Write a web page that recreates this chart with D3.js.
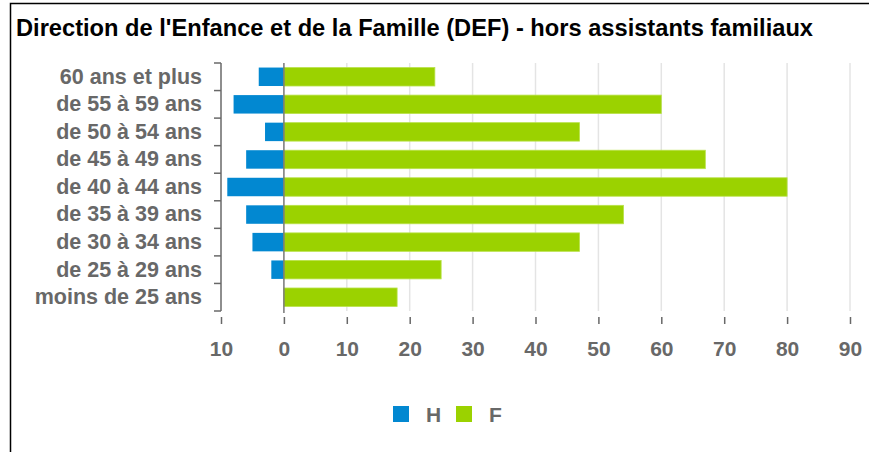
<!DOCTYPE html>
<html lang="fr">
	<head>
		<meta charset="utf-8">
		<title>DEF - pyramide des ages</title>
		<script type="text/javascript" src="https://cdn.jsdelivr.net/npm/d3@7"></script>
		<style type="text/css">
			body { margin: 0; background: #fff; }
			text { font-family: "Liberation Sans", Arial, sans-serif; }
		</style>
	</head>
	<body>
		<script type="text/javascript">
			// categories (top to bottom) and values
			var ages = ["60 ans et plus", "de 55 à 59 ans", "de 50 à 54 ans", "de 45 à 49 ans",
						"de 40 à 44 ans", "de 35 à 39 ans", "de 30 à 34 ans", "de 25 à 29 ans",
						"moins de 25 ans"];
			var hommes = [4, 8, 3, 6, 9, 6, 5, 2, 0];
			var femmes = [24, 60, 47, 67, 80, 54, 47, 25, 18];
			var xTicks = [-10, 0, 10, 20, 30, 40, 50, 60, 70, 80, 90];
			var series = ["H", "F"];

			var w = 869;
			var h = 452;
			var grey = "#686868";
			var blue = "#0288d1";
			var green = "#9bd200";

			var svg = d3.select("body")
						.append("svg")
						.attr("width", w)
						.attr("height", h);

			// frame (left + top only, like the cropped original)
			svg.append("path")
				.attr("d", "M10.5," + h + "V3.5H" + w)
				.attr("fill", "none")
				.attr("stroke", "#000")
				.attr("stroke-width", 1.5);

			svg.append("text")
				.attr("x", 16)
				.attr("y", 36)
				.attr("font-size", "23px")
				.attr("font-weight", "bold")
				.attr("fill", "#000")
				.attr("textLength", 797)
				.attr("lengthAdjust", "spacingAndGlyphs")
				.text("Direction de l'Enfance et de la Famille (DEF) - hors assistants familiaux");

			var xScale = d3.scaleLinear()
						.domain([-10, 90])
						.range([221, 850]);

			var yScale = d3.scaleBand()
						.domain(ages)
						.range([63, 311])
						.paddingInner(0.33)
						.paddingOuter(0.165);

			//grid lines
			svg.append("g")
				.selectAll("line")
				.data(xTicks.filter(function(d) { return d !== -10 && d !== 0; }))
				.enter()
				.append("line")
				.attr("x1", function(d) { return xScale(d); })
				.attr("x2", function(d) { return xScale(d); })
				.attr("y1", 63)
				.attr("y2", 311)
				.attr("stroke", "#e4e4e4")
				.attr("stroke-width", 1.5);

			//bars H (negative side)
			svg.selectAll("rect.h")
			   .data(ages)
			   .enter()
			   .append("rect")
			   .attr("class", "h")
			   .attr("x", function(d, i) { return xScale(-hommes[i]); })
			   .attr("y", function(d) { return yScale(d); })
			   .attr("width", function(d, i) { return xScale(0) - xScale(-hommes[i]); })
			   .attr("height", yScale.bandwidth())
			   .attr("fill", blue);

			//bars F
			svg.selectAll("rect.f")
			   .data(ages)
			   .enter()
			   .append("rect")
			   .attr("class", "f")
			   .attr("x", xScale(0))
			   .attr("y", function(d) { return yScale(d); })
			   .attr("width", function(d, i) { return xScale(femmes[i]) - xScale(0); })
			   .attr("height", yScale.bandwidth())
			   .attr("fill", green)
			   .attr("stroke", "#b9e24a")
			   .attr("stroke-width", 0.8);

			// zero line
			svg.append("line")
				.attr("x1", xScale(0))
				.attr("x2", xScale(0))
				.attr("y1", 63)
				.attr("y2", 313)
				.attr("stroke", "#777")
				.attr("stroke-width", 1.5);

			// Y axis
			var yAxis = d3.axisLeft(yScale)
						.tickSize(0)
						.tickPadding(19);

			var yG = svg.append("g")
				.attr("transform", "translate(" + xScale(-10) + ",0)")
				.call(yAxis);
			yG.select(".domain").remove();
			yG.selectAll("text")
				.attr("font-size", "21.5px")
				.attr("font-weight", "bold")
				.attr("font-family", "Liberation Sans, Arial, sans-serif")
				.attr("fill", grey);

			// bracket: axis line with ticks at band boundaries
			var bounds = ages.map(function(d) { return yScale(d) - yScale.step() * yScale.paddingInner() / 2; });
			bounds.push(311);
			var bx = xScale(-10);
			svg.append("line")
				.attr("x1", bx).attr("x2", bx)
				.attr("y1", 63).attr("y2", 311)
				.attr("stroke", grey).attr("stroke-width", 1.5);
			svg.append("g")
				.selectAll("line")
				.data(bounds)
				.enter()
				.append("line")
				.attr("x1", bx - 7).attr("x2", bx)
				.attr("y1", function(d) { return d; })
				.attr("y2", function(d) { return d; })
				.attr("stroke", grey).attr("stroke-width", 1.5);

			// X axis
			var xAxis = d3.axisBottom(xScale)
						.tickValues(xTicks)
						.tickFormat(function(d) { return Math.abs(d); })
						.tickSize(7)
						.tickPadding(17);

			var xG = svg.append("g")
				.attr("transform", "translate(0,317)")
				.call(xAxis);
			xG.select(".domain").remove();
			xG.selectAll("line").attr("stroke", grey).attr("stroke-width", 1.5);
			xG.selectAll("text")
				.attr("font-size", "21px")
				.attr("font-weight", "bold")
				.attr("font-family", "Liberation Sans, Arial, sans-serif")
				.attr("fill", grey);

			// legend
			var legendX = [393, 456];
			var legend = svg.selectAll("g.legend")
				.data(series)
				.enter()
				.append("g")
				.attr("class", "legend")
				.attr("transform", function(d, i) { return "translate(" + legendX[i] + ",406)"; });
			legend.append("rect")
				.attr("width", 16)
				.attr("height", 16)
				.attr("fill", function(d, i) { return i === 0 ? blue : green; });
			legend.append("text")
				.attr("x", 33)
				.attr("y", 16)
				.attr("font-size", "21px")
				.attr("font-weight", "bold")
				.attr("fill", grey)
				.text(function(d) { return d; });
		</script>
	</body>
</html>
